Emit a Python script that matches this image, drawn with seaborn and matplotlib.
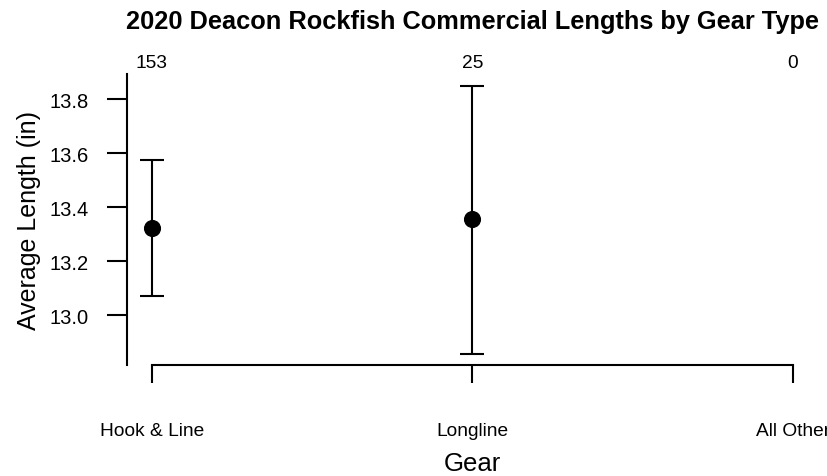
import matplotlib
matplotlib.use("Agg")
import matplotlib.pyplot as plt
import seaborn as sns
import pandas as pd

# Datos
gear = ["Hook & Line", "Longline", "All Other"]
mean_len = [13.322, 13.356, None]
lower = [13.07, 12.856, None]
upper = [13.574, 13.848, None]
n_fish = [153, 25, 0]
y_ticks = [13.0, 13.2, 13.4, 13.6, 13.8]

sns.set_style("ticks")
plt.rcParams["font.family"] = ["Liberation Sans", "DejaVu Sans"]
plt.rcParams["text.color"] = "black"
plt.rcParams["axes.labelcolor"] = "black"

fig = plt.figure(figsize=(8.28, 4.77), dpi=100)
ax = fig.add_axes([127 / 828, 1 - 366 / 477, (818 - 127) / 828, (366 - 75) / 477])

pos = list(range(1, len(gear) + 1))
df = pd.DataFrame({"pos": pos, "mean": mean_len, "lo": lower, "hi": upper}).dropna()

# Barras de error (intervalo)
ax.errorbar(df["pos"], df["mean"],
            yerr=[df["mean"] - df["lo"], df["hi"] - df["mean"]],
            fmt="none", ecolor="black", elinewidth=1.5, capsize=8.3, capthick=1.5)
sns.scatterplot(data=df, x="pos", y="mean", ax=ax, color="black", s=130,
                edgecolor="black", zorder=3, legend=False)

ax.set_xlim(0.922, 3.078)
ax.set_ylim(12.815, 13.893)
ax.set_xticks(pos)
ax.set_xticklabels(gear, fontsize=13.8)
ax.set_yticks(y_ticks)
ax.set_yticklabels([f"{v:.1f}" for v in y_ticks], fontsize=14.5)

ax.tick_params(axis="x", length=13, width=1.5, pad=28, colors="black")
ax.tick_params(axis="y", length=14.5, width=1.5, pad=13, colors="black")

sns.despine(ax=ax)
ax.spines["left"].set_linewidth(1.5)
ax.spines["bottom"].set_linewidth(1.5)
ax.spines["left"].set_color("black")
ax.spines["bottom"].set_color("black")
ax.spines["bottom"].set_bounds(1, 3)

# Tamaño de muestra arriba
for p, n in zip(pos, n_fish):
    ax.text(p, 1.01, str(n), transform=ax.get_xaxis_transform(),
            ha="center", va="bottom", fontsize=13.8)

ax.set_xlabel("Gear", fontsize=18.5, labelpad=9)
ax.set_ylabel("Average Length (in)", fontsize=18, labelpad=6)
fig.text(473 / 828, 1 - 22 / 477, "2020 Deacon Rockfish Commercial Lengths by Gear Type",
         ha="center", va="center", fontsize=18.3, fontweight="bold")

fig.savefig("out.png", dpi=100)
